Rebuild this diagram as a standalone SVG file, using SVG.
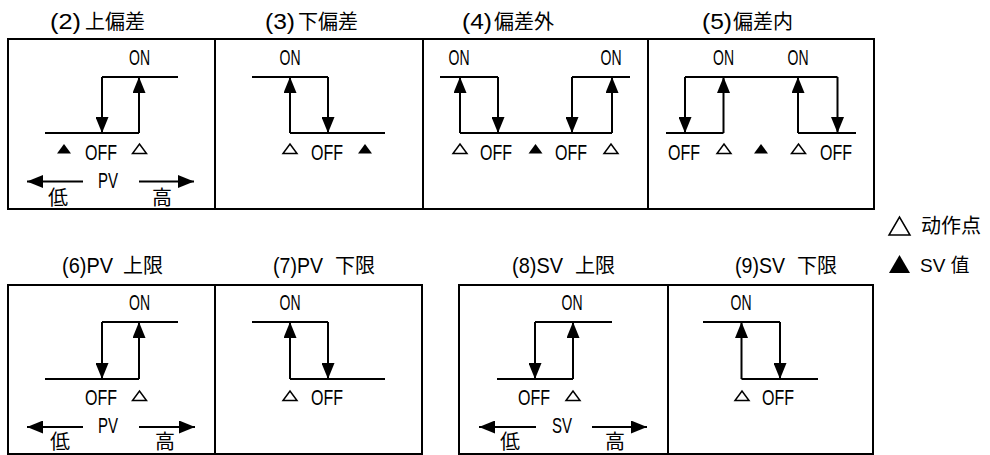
<svg xmlns="http://www.w3.org/2000/svg" xmlns:xlink="http://www.w3.org/1999/xlink" width="990" height="455" viewBox="0 0 990 455">
<style>
.box{fill:none;stroke:#000;stroke-width:2}
.ln{fill:none;stroke:#000;stroke-width:2}
.ar{fill:none;stroke:#000;stroke-width:2;marker-end:url(#ah)}
.lat{font-family:"Liberation Sans",Arial,sans-serif;font-size:22px;fill:#000}
.mid{text-anchor:middle}
.cjk{font-family:"Noto Sans CJK JP","Noto Sans CJK SC",sans-serif;font-size:20px;fill:#000}
.lg{font-family:"Liberation Sans","Noto Sans CJK SC",sans-serif;font-size:19px;fill:#000}
.tf{fill:#000}
.to{fill:#fff;stroke:#000;stroke-width:1.5}
</style>
<defs>
<marker id="ah" viewBox="0 0 16 13" refX="16" refY="6.5" markerWidth="16" markerHeight="13" orient="auto" markerUnits="userSpaceOnUse"><path d="M0,0 L16,6.5 L0,13 z" fill="#000"/></marker>
<polygon id="tri" points="-7,9.5 7,9.5 0,0"/>
</defs>
<rect width="990" height="455" fill="#fff"/>

<g id="p2">
<rect class="box" x="8" y="39" width="207" height="170"/>
<text class="lat" x="50" y="29" textLength="31" lengthAdjust="spacingAndGlyphs">(2)</text>
<text class="cjk" x="85" y="29">上偏差</text>
<text class="lat mid" x="139.5" y="65" textLength="21" lengthAdjust="spacingAndGlyphs">ON</text>
<use href="#tri" x="64" y="144" class="tf"/>
<text class="lat mid" x="101" y="160" textLength="32" lengthAdjust="spacingAndGlyphs">OFF</text>
<use href="#tri" x="139.5" y="144" class="to"/>
<text class="lat mid" x="108" y="188" textLength="20" lengthAdjust="spacingAndGlyphs">PV</text>
<text class="cjk mid" x="58" y="205">低</text>
<text class="cjk mid" x="162" y="205">高</text>
</g>

<g id="p3">
<rect class="box" x="215" y="39" width="208" height="170"/>
<text class="lat" x="265" y="29" textLength="30" lengthAdjust="spacingAndGlyphs">(3)</text>
<text class="cjk" x="298" y="29">下偏差</text>
<text class="lat mid" x="290" y="65" textLength="21" lengthAdjust="spacingAndGlyphs">ON</text>
<use href="#tri" x="290" y="144" class="to"/>
<text class="lat mid" x="327" y="160" textLength="32" lengthAdjust="spacingAndGlyphs">OFF</text>
<use href="#tri" x="365" y="144" class="tf"/>
</g>

<g id="p4">
<rect class="box" x="423" y="39" width="225" height="170"/>
<text class="lat" x="462" y="29" textLength="30" lengthAdjust="spacingAndGlyphs">(4)</text>
<text class="cjk" x="494" y="29">偏差外</text>
<text class="lat mid" x="459" y="65" textLength="21" lengthAdjust="spacingAndGlyphs">ON</text>
<text class="lat mid" x="611" y="65" textLength="21" lengthAdjust="spacingAndGlyphs">ON</text>
<use href="#tri" x="460" y="144" class="to"/>
<text class="lat mid" x="496" y="160" textLength="32" lengthAdjust="spacingAndGlyphs">OFF</text>
<use href="#tri" x="535.5" y="144" class="tf"/>
<text class="lat mid" x="571" y="160" textLength="32" lengthAdjust="spacingAndGlyphs">OFF</text>
<use href="#tri" x="611" y="144" class="to"/>
</g>

<g id="p5">
<rect class="box" x="648" y="39" width="226" height="170"/>
<text class="lat" x="702" y="29" textLength="30" lengthAdjust="spacingAndGlyphs">(5)</text>
<text class="cjk" x="733" y="29">偏差内</text>
<text class="lat mid" x="723.5" y="65" textLength="21" lengthAdjust="spacingAndGlyphs">ON</text>
<text class="lat mid" x="798" y="65" textLength="21" lengthAdjust="spacingAndGlyphs">ON</text>
<text class="lat mid" x="684" y="160" textLength="32" lengthAdjust="spacingAndGlyphs">OFF</text>
<use href="#tri" x="724" y="144" class="to"/>
<use href="#tri" x="761" y="144" class="tf"/>
<use href="#tri" x="798.5" y="144" class="to"/>
<text class="lat mid" x="836" y="160" textLength="32" lengthAdjust="spacingAndGlyphs">OFF</text>
</g>

<g id="p6">
<rect class="box" x="8" y="285" width="207" height="169"/>
<text class="lat" x="62" y="273" textLength="51" lengthAdjust="spacingAndGlyphs">(6)PV</text>
<text class="cjk" x="123" y="273">上限</text>
<text class="lat mid" x="139.5" y="310" textLength="21" lengthAdjust="spacingAndGlyphs">ON</text>
<text class="lat mid" x="101" y="405" textLength="32" lengthAdjust="spacingAndGlyphs">OFF</text>
<use href="#tri" x="139.5" y="391" class="to"/>
<text class="lat mid" x="108" y="433" textLength="20" lengthAdjust="spacingAndGlyphs">PV</text>
<text class="cjk mid" x="60" y="449">低</text>
<text class="cjk mid" x="165" y="449">高</text>
</g>

<g id="p7">
<rect class="box" x="215" y="285" width="207" height="169"/>
<text class="lat" x="273" y="273" textLength="50" lengthAdjust="spacingAndGlyphs">(7)PV</text>
<text class="cjk" x="335" y="273">下限</text>
<text class="lat mid" x="290" y="310" textLength="21" lengthAdjust="spacingAndGlyphs">ON</text>
<use href="#tri" x="290" y="391" class="to"/>
<text class="lat mid" x="327" y="405" textLength="32" lengthAdjust="spacingAndGlyphs">OFF</text>
</g>

<g id="p8">
<rect class="box" x="459" y="285" width="209" height="169"/>
<text class="lat" x="512" y="273" textLength="51" lengthAdjust="spacingAndGlyphs">(8)SV</text>
<text class="cjk" x="575" y="273">上限</text>
<text class="lat mid" x="572" y="310" textLength="21" lengthAdjust="spacingAndGlyphs">ON</text>
<text class="lat mid" x="534" y="405" textLength="32" lengthAdjust="spacingAndGlyphs">OFF</text>
<use href="#tri" x="573" y="391" class="to"/>
<text class="lat mid" x="562" y="433" textLength="20" lengthAdjust="spacingAndGlyphs">SV</text>
<text class="cjk mid" x="510" y="449">低</text>
<text class="cjk mid" x="615" y="449">高</text>
</g>

<g id="p9">
<rect class="box" x="668" y="285" width="205" height="169"/>
<text class="lat" x="735" y="273" textLength="50" lengthAdjust="spacingAndGlyphs">(9)SV</text>
<text class="cjk" x="797" y="273">下限</text>
<text class="lat mid" x="741" y="310" textLength="21" lengthAdjust="spacingAndGlyphs">ON</text>
<use href="#tri" x="742" y="391" class="to"/>
<text class="lat mid" x="778" y="405" textLength="32" lengthAdjust="spacingAndGlyphs">OFF</text>
</g>

<g id="legend">
<polygon points="889,235 910,235 899.5,217" fill="none" stroke="#000" stroke-width="1.5"/>
<text class="lg" x="921" y="233" style="font-family:'Noto Sans CJK SC',sans-serif;font-size:20px">动作点</text>
<polygon points="889,273 910,273 899.5,255" fill="#000"/>
<text class="lg" x="920" y="272">SV 值</text>
</g>

<g id="connectors">
<path class="ln" d="M102,77 H178 M45,133 H139"/>
<path class="ar" d="M102,77 V133"/>
<path class="ar" d="M139,133 V77"/>
<path class="ar" d="M83,181.5 H27"/>
<path class="ar" d="M139,181.5 H194"/>
<path class="ln" d="M252,77 H328 M290,133 H385"/>
<path class="ar" d="M290,133 V77"/>
<path class="ar" d="M328,77 V133"/>
<path class="ln" d="M440,77 H498 M460,133 H612 M572,77 H630"/>
<path class="ar" d="M460,133 V77"/>
<path class="ar" d="M498,77 V133"/>
<path class="ar" d="M572,77 V133"/>
<path class="ar" d="M612,133 V77"/>
<path class="ln" d="M685,77 H837.5 M666,133 H723.5 M798,133 H856"/>
<path class="ar" d="M685,77 V133"/>
<path class="ar" d="M723.5,133 V77"/>
<path class="ar" d="M798,133 V77"/>
<path class="ar" d="M837.5,77 V133"/>
<path class="ln" d="M102,322 H178 M45,379 H139"/>
<path class="ar" d="M102,322 V379"/>
<path class="ar" d="M139,379 V322"/>
<path class="ar" d="M83,427 H27"/>
<path class="ar" d="M139,427 H195"/>
<path class="ln" d="M252,322 H328 M290,379 H385"/>
<path class="ar" d="M290,379 V322"/>
<path class="ar" d="M328,322 V379"/>
<path class="ln" d="M535,322 H612 M497,379 H573"/>
<path class="ar" d="M535,322 V379"/>
<path class="ar" d="M573,379 V322"/>
<path class="ar" d="M536,427 H479"/>
<path class="ar" d="M592,427 H647"/>
<path class="ln" d="M703,322 H780 M741.5,379 H818"/>
<path class="ar" d="M741.5,379 V322"/>
<path class="ar" d="M780,322 V379"/>
</g>
</svg>
